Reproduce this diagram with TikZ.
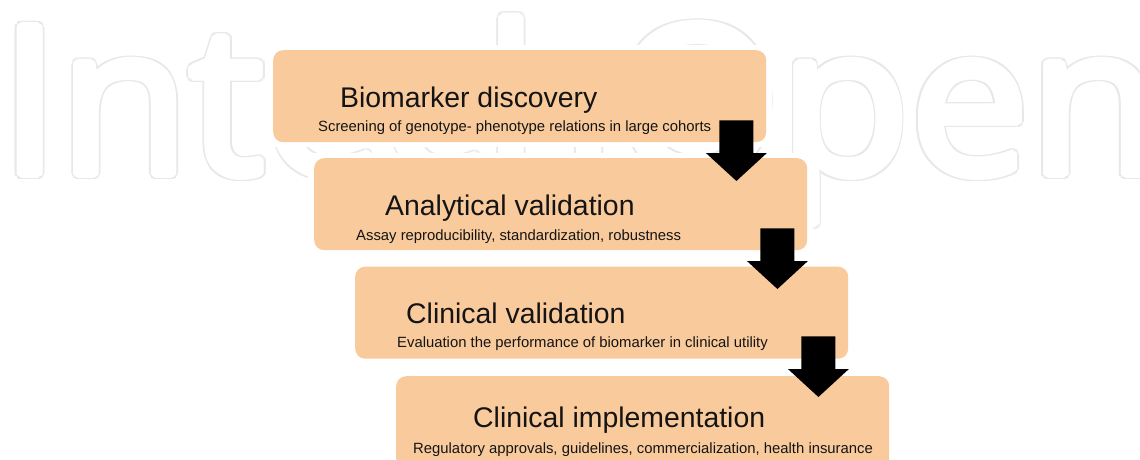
\documentclass[tikz,border=0pt]{standalone}
\usepackage{fontspec}
\setmainfont{Liberation Sans}
\newfontfamily\wmfont{Open Sans}[FakeStretch=1.03]
\usetikzlibrary{calc}
\definecolor{boxfill}{HTML}{F9CB9C}
\definecolor{wmgray}{HTML}{E8E8E8}
\definecolor{inkcol}{HTML}{141414}
\begin{document}
\begin{tikzpicture}[x=1pt,y=-1pt,
  stagebox/.style={fill=boxfill, draw=none, rounded corners=10pt, minimum width=493pt, minimum height=92pt, inner sep=0pt, anchor=north west},
  halo/.style={fill=white, draw=none, minimum width=505pt, minimum height=102pt, inner sep=0pt},
  blockarrow/.style={fill=black, draw=none},
  titletext/.style={anchor=base west, inner sep=0pt, text=inkcol, font=\fontsize{28.4}{28.4}\selectfont},
  subtext/.style={anchor=base west, inner sep=0pt, text=inkcol, font=\fontsize{14.85}{14.85}\selectfont},
  wmtext/.style={anchor=base west, inner sep=0pt, font=\wmfont\fontsize{206}{206}\selectfont}]
\useasboundingbox (0,0) rectangle (1140,460);
\clip (0,0) rectangle (1140,460);
\fill[white] (0,0) rectangle (1140,460);
% watermark (outlined, fattened)
\foreach \a [count=\i] in {0,22.5,...,337.5}
  \node[wmtext, text=wmgray] (wmc\i) at ($(0,174)+(\a:5.8)$) {IntechOpen};
\foreach \a [count=\i] in {0,22.5,...,337.5}
  \node[wmtext, text=white] (wmw\i) at ($(0,174)+(\a:4.2)$) {IntechOpen};
\node[wmtext, text=white] (wm) at (0,174) {IntechOpen};
% boxes with white halos
\node[halo] (h1) at (519.5,96) {};
\node[halo] (h2) at (560.5,204) {};
\node[halo] (h3) at (601.5,312.5) {};
\node[halo] (h4) at (642.5,422) {};
\node[stagebox] (b1) at (273,50) {};
\node[stagebox] (b2) at (314,158) {};
\node[stagebox] (b3) at (355,266.5) {};
\node[stagebox] (b4) at (396,376) {};
% arrows
\coordinate (a1s) at ([xshift=-30pt,yshift=22pt]b1.south east);
\coordinate (a1t) at ([xshift=-71pt,yshift=-23pt]b2.north east);
\coordinate (a2s) at ([xshift=-30pt,yshift=22pt]b2.south east);
\coordinate (a2t) at ([xshift=-71pt,yshift=-22.5pt]b3.north east);
\coordinate (a3s) at ([xshift=-30pt,yshift=22.5pt]b3.south east);
\coordinate (a3t) at ([xshift=-71pt,yshift=-21pt]b4.north east);
\foreach \s/\t in {a1s/a1t,a2s/a2t,a3s/a3t}
  \fill[blockarrow] ([xshift=-17pt]\s) -- ([xshift=-17pt,yshift=28pt]\t) -- ([xshift=-30.5pt,yshift=28pt]\t) -- (\t)
    -- ([xshift=30.5pt,yshift=28pt]\t) -- ([xshift=17pt,yshift=28pt]\t) -- ([xshift=17pt]\s) -- cycle;
% texts
\node[titletext] (t1) at (340,107) {Biomarker discovery};
\node[subtext] (s1) at (318,131) {Screening of genotype- phenotype relations in large cohorts};
\node[titletext] (t2) at (385,215) {Analytical validation};
\node[subtext] (s2) at (356,240) {Assay reproducibility, standardization, robustness};
\node[titletext] (t3) at (406,323) {Clinical validation};
\node[subtext] (s3) at (397,347) {Evaluation the performance of biomarker in clinical utility};
\node[titletext] (t4) at (473,427) {Clinical implementation};
\node[subtext] (s4) at (413,453) {Regulatory approvals, guidelines, commercialization, health insurance};
\end{tikzpicture}
\end{document}
